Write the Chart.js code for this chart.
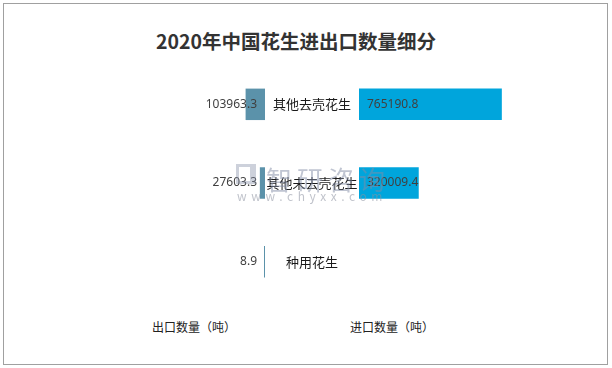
<!DOCTYPE html>
<html>
<head>
<meta charset="utf-8">
<script src="https://cdn.jsdelivr.net/npm/chart.js@4"></script>
<style>
  body { margin: 0; background: #fff; font-family: "Noto Sans CJK SC", "Noto Sans", sans-serif; }
  #frame { position: absolute; left: 3px; top: 3px; width: 603px; height: 360px; border: 1px solid #a0a0a0; }
  #title { position: absolute; left: 0; width: 592px; top: 26px; text-align: center; font-size: 19.5px; font-weight: bold; color: #333; }
  .axisName { position: absolute; top: 318px; font-size: 12px; color: #222; }
  #wrapLeft { position: absolute; left: 97px; top: 65px; width: 168px; height: 236px; }
  #wrapRight { position: absolute; left: 265px; top: 65px; width: 262px; height: 236px; }
  #wm1 { position: absolute; left: 266px; top: 160px; font-size: 26px; letter-spacing: 5px; color: rgba(130,140,165,0.5); pointer-events: none; }
  #wm2 { position: absolute; left: 237px; top: 187px; font-size: 12px; letter-spacing: 4.6px; color: rgba(140,145,160,0.55); pointer-events: none; }
  #logo { position: absolute; left: 236px; top: 164px; width: 20px; height: 20px; border: 3px solid rgba(130,140,165,0.4); border-right-width: 6px; box-sizing: border-box; pointer-events: none; }
</style>
</head>
<body>
<div id="frame"></div>
<div id="title">2020年中国花生进出口数量细分</div>
<div id="wrapLeft"><canvas id="leftChart"></canvas></div>
<div id="wrapRight"><canvas id="rightChart"></canvas></div>
<div class="axisName" style="left:152px">出口数量（吨）</div>
<div class="axisName" style="left:350px">进口数量（吨）</div>
<div id="logo"></div>
<div id="wm1">智研咨询</div>
<div id="wm2">www.chyxx.com</div>
<script>
const categories = ['其他去壳花生', '其他未去壳花生', '种用花生'];
const exportValues = [103963.3, 27603.3, 8.9];
const importValues = [765190.8, 320009.4, null];
const axisMax = 900000;

const exportColor = '#5b92aa';
const importColor = '#00a5dc';

// value labels drawn at the bar base, like the original
const baseLabels = {
  id: 'baseLabels',
  afterDatasetsDraw(chart, args, opts) {
    const ctx = chart.ctx;
    ctx.save();
    ctx.font = '12px "Noto Sans", sans-serif';
    ctx.fillStyle = '#404040';
    ctx.textBaseline = 'middle';
    ctx.textAlign = opts.side === 'left' ? 'right' : 'left';
    const meta = chart.getDatasetMeta(0);
    const data = chart.data.datasets[0].data;
    meta.data.forEach((bar, i) => {
      if (data[i] == null) return;
      const x = opts.side === 'left' ? bar.base - 8 : bar.base + 8;
      ctx.fillText(data[i].toFixed(1), x, bar.y);
    });
    // category names centred in the gap between the two halves
    if (opts.side === 'right') {
      const yScale = chart.scales.y;
      ctx.font = '13px "Noto Sans CJK SC", sans-serif';
      ctx.fillStyle = '#1a1a1a';
      ctx.textAlign = 'center';
      chart.data.labels.forEach((lab, i) => {
        ctx.fillText(lab, chart.chartArea.left - 47, yScale.getPixelForValue(i));
      });
    }
    ctx.restore();
  }
};

const common = {
  indexAxis: 'y',
  responsive: true,
  maintainAspectRatio: false,
  animation: false,
  layout: { padding: 0 },
  plugins: { legend: { display: false }, tooltip: { enabled: false }, title: { display: false } }
};

new Chart(document.getElementById('leftChart'), {
  type: 'bar',
  data: {
    labels: categories,
    datasets: [{
      data: exportValues,
      backgroundColor: exportColor,
      categoryPercentage: 0.5,
      barPercentage: 0.8,
      minBarLength: 1
    }]
  },
  options: {
    ...common,
    plugins: { ...common.plugins, baseLabels: { side: 'left' } },
    scales: {
      x: { display: false, reverse: true, min: 0, max: axisMax },
      y: { display: false }
    }
  },
  plugins: [baseLabels]
});

new Chart(document.getElementById('rightChart'), {
  type: 'bar',
  data: {
    labels: categories,
    datasets: [{
      data: importValues,
      backgroundColor: importColor,
      categoryPercentage: 0.5,
      barPercentage: 0.8
    }]
  },
  options: {
    ...common,
    plugins: { ...common.plugins, baseLabels: { side: 'right' } },
    scales: {
      x: { display: false, min: 0, max: axisMax },
      y: {
        grid: { display: false },
        border: { display: false },
        ticks: { display: false },
        afterFit(scale) { scale.width = 94; }
      }
    }
  },
  plugins: [baseLabels]
});
</script>
</body>
</html>
